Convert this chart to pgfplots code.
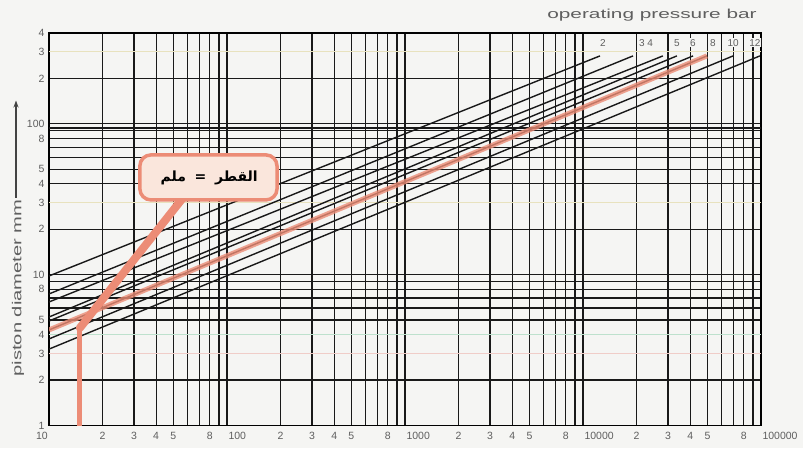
\documentclass[border=0pt]{standalone}
\usepackage{pgfplots}
\pgfplotsset{compat=1.18}
\usepackage{fontspec}
\setmainfont{Liberation Sans}
\newfontfamily\arabicfont[Script=Arabic]{DejaVu Sans}
\TeXXeTstate=1
\usetikzlibrary{arrows.meta}
\definecolor{bg}{RGB}{245,245,243}
\definecolor{salmon}{RGB}{236,140,118}
\definecolor{peach}{RGB}{250,230,220}
\definecolor{tickgray}{RGB}{95,95,95}
\definecolor{paleyellow}{RGB}{232,226,190}
\definecolor{palegreen}{RGB}{190,225,205}
\definecolor{palepink}{RGB}{240,205,200}
\begin{document}
\begin{tikzpicture}[x=1pt,y=1pt]
\fill[bg] (-49,-22.5) rectangle (754,425.5);
\begin{axis}[at={(0,0)}, anchor=south west, scale only axis,
  width=712pt, height=392.5pt,
  xmode=log, ymode=log, xmin=10, xmax=100000, ymin=1, ymax=400,
  xtick={10,20,30,40,50,60,70,80,90,100,200,300,400,500,600,700,800,900,1000,2000,3000,4000,5000,6000,7000,8000,9000,10000,20000,30000,40000,50000,60000,70000,80000,90000,100000},
  xticklabels={,2,3,4,5,,,8,,,2,3,4,5,,,8,,,2,3,4,5,,,8,,,2,3,4,5,,,8,,},
  extra x ticks={100,1000,10000,100000}, extra x tick labels={100,1000,10000,100000},
  extra x tick style={grid=none, xticklabel style={anchor=base west, xshift=-2pt}},
  ytick={1,2,5,6,7,8,9,10,20,40,50,60,70,80,90,100,200,400},
  yticklabels={1,2,5,,,8,,10,2,4,5,,,8,,100,2,4},
  extra y ticks={3,4,30,300}, extra y tick labels={3,4,3,3},
  extra y tick style={grid=none},
  major tick length=0pt, minor tick length=0pt,
  grid=major,
  major grid style={black!90, line width=1.3pt},
  axis line style={black, line width=1.5pt},
  tick label style={font=\fontsize{10.5}{10.5}\selectfont, text=tickgray},
  xticklabel style={anchor=base, yshift=-14pt},
  yticklabel style={anchor=east, xshift=-1pt},
  clip=true,
]
% faint grid lines
\addplot[palepink, line width=1.2pt] coordinates {(10,3) (100000,3)};
\addplot[palegreen, line width=1.2pt] coordinates {(10,4) (100000,4)};
\addplot[paleyellow, line width=1.2pt] coordinates {(10,30) (100000,30)};
\addplot[paleyellow, line width=1.2pt] coordinates {(10,300) (100000,300)};
\addplot[black!90, line width=1.3pt] coordinates {(10,94) (100000,94)};
% pressure lines
\addplot[black!90, line width=1.4pt] coordinates {(10,9.80) (12460,282)};
\addplot[black!90, line width=1.4pt] coordinates {(10,7.45) (19100,282)};
\addplot[black!90, line width=1.4pt] coordinates {(10,6.59) (28100,282)};
\addplot[black!90, line width=1.4pt] coordinates {(10,5.24) (33700,282)};
\addplot[black!90, line width=1.4pt] coordinates {(10,4.93) (41500,282)};
\addplot[black!90, line width=1.4pt] coordinates {(10,4.30) (49700,282)};
\addplot[black!90, line width=1.4pt] coordinates {(10,3.75) (69700,282)};
\addplot[black!90, line width=1.4pt] coordinates {(10,3.21) (98600,282)};
% highlighted line
\addplot[salmon, line width=5pt, opacity=0.8] coordinates {(10,4.30) (49700,282)};
% reading line and callout tail
\addplot[salmon, line width=5pt] coordinates {(14.9,1) (14.9,4.43)};
\addplot[salmon, line width=8pt, line cap=round] coordinates {(14.9,4.43) (56.6,32.3)};
\draw[salmon, line width=3.5pt, fill=peach, rounded corners=11pt]
  (axis cs:32.4,31.3) rectangle (axis cs:191,62.2);
\node[font=\arabicfont\bfseries\fontsize{14}{14}\selectfont] at (axis cs:113,43.8) {\beginR القطر\endR};
\node[font=\arabicfont\bfseries\fontsize{14}{14}\selectfont] at (axis cs:71,43.8) {=};
\node[font=\arabicfont\bfseries\fontsize{14}{14}\selectfont] at (axis cs:50,43.8) {\beginR ملم\endR};
% pressure labels
\foreach \f/\t in {12940/2,21400/3,23800/4,33700/5,41500/6,53700/8,69700/10,92500/12}{
  \edef\tmp{\noexpand\node[fill=bg, inner sep=1pt, text=tickgray, font=\noexpand\fontsize{10}{10}\noexpand\selectfont] at (axis cs:\f,344) {\t};}
  \tmp
}
\end{axis}
\node[anchor=base, text=tickgray, font=\fontsize{10.5}{10.5}\selectfont] at (-7,-14) {10};
\node[rotate=90, text=tickgray] at (-31,137.5) {\scalebox{1.55}[1]{\fontsize{13}{13}\selectfont piston diameter mm}};
\draw[-{Stealth[length=7pt,width=5pt]}, line width=1.1pt, tickgray!70!black] (-33,228) -- (-33,325);
\node[text=tickgray] at (603,410.5) {\scalebox{1.6}[1]{\fontsize{13}{13}\selectfont operating pressure bar}};
\path (-49,-22.5) rectangle (754,425.5);
\end{tikzpicture}
\end{document}
